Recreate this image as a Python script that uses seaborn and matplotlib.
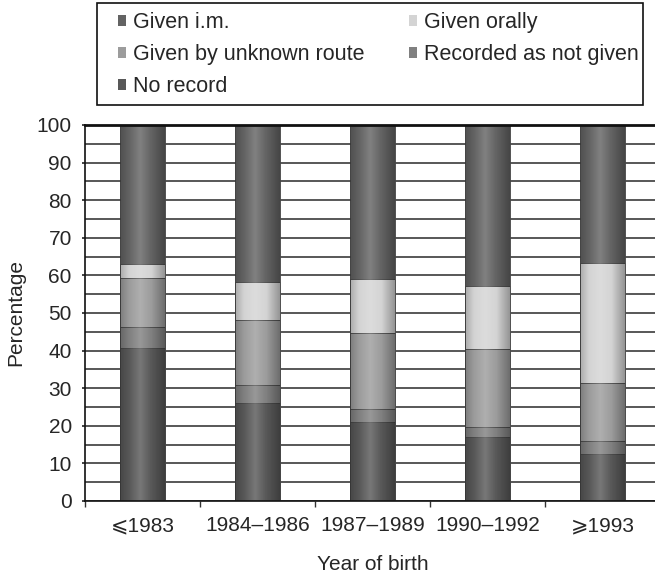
import matplotlib
matplotlib.use("Agg")
import matplotlib.pyplot as plt
import seaborn as sns
import pandas as pd
import numpy as np
from matplotlib.patches import Patch, Rectangle

categories = ["⩽1983", "1984–1986", "1987–1989", "1990–1992", "⩾1993"]
given_im = [37.1, 41.7, 41.0, 42.8, 36.6]
given_orally = [3.5, 10.2, 14.2, 16.9, 32.1]
given_unknown = [13.0, 17.2, 20.4, 20.5, 15.3]
recorded_not_given = [5.6, 4.8, 3.3, 2.9, 3.5]
no_record = [40.8, 26.1, 21.1, 16.9, 12.5]

# stacking order bottom -> top
series = [
    ("No record", no_record, "#585858"),
    ("Recorded as not given", recorded_not_given, "#808080"),
    ("Given by unknown route", given_unknown, "#9c9c9c"),
    ("Given orally", given_orally, "#d4d4d4"),
    ("Given i.m.", given_im, "#636363"),
]

sns.set_theme(style="white")
plt.rcParams["font.family"] = ["Liberation Sans", "DejaVu Sans"]
FS = 15

fig = plt.figure(figsize=(6.55, 5.73), dpi=100)
ax = fig.add_axes([85 / 655, 1 - 501 / 573, 575 / 655, 376 / 573])

cum = np.zeros(len(categories))
tops = []
for name, vals, col in series:
    cum = cum + np.array(vals)
    tops.append((name, cum.copy(), col))

# cylindrical shading overlay (horizontal gradient)
t = np.linspace(0, 1, 64)
v = 1 - np.abs(t - 0.45) * 2.2
shade = np.zeros((1, len(t), 4))
light = v > 0.45
shade[0, light, :3] = 1.0
shade[0, light, 3] = (v[light] - 0.45) * 0.35
shade[0, ~light, :3] = 0.0
shade[0, ~light, 3] = np.clip((0.45 - v[~light]) * 0.45, 0, 0.35)

# draw from tallest cumulative to shortest so lower segments sit on top
for i, (name, top, col) in enumerate(reversed(tops)):
    z = 2 + i * 0.1
    n_before = len(ax.patches)
    df = pd.DataFrame({"cat": categories, "val": top})
    sns.barplot(data=df, x="cat", y="val", color=col, width=0.39,
                edgecolor="#454545", linewidth=0.6, saturation=1, ax=ax,
                order=categories, zorder=z)
    for p in ax.patches[n_before:]:
        x0, y0 = p.get_x(), p.get_y()
        w, h = p.get_width(), p.get_height()
        im = ax.imshow(shade, extent=[x0, x0 + w, y0, y0 + h], aspect="auto",
                       interpolation="bilinear", zorder=z + 0.05)
        im.set_clip_path(p)

ax.set_xlim(-0.5, 4.5)
ax.set_ylim(0, 100)
ax.set_yticks(range(0, 101, 10))
ax.set_yticks(range(0, 101, 5), minor=True)
ax.grid(axis="y", which="both", color="#2a2a2a", linewidth=1.1, zorder=0)
ax.set_axisbelow(True)
ax.set_xticks(range(len(categories)))
ax.set_xticklabels(categories, fontsize=FS,
                   family=["Liberation Sans", "DejaVu Sans"])
ax.set_xticks(np.arange(-0.5, 5, 1), minor=True)
ax.tick_params(axis="x", which="major", length=0, pad=11)
ax.tick_params(axis="x", which="minor", length=4, width=1, color="#333", bottom=True)
ax.tick_params(axis="y", which="major", length=2.5, width=1.2, color="#222", left=True,
               labelsize=FS, pad=7)
ax.tick_params(axis="y", which="minor", length=0)
for s in ["left", "bottom", "top"]:
    ax.spines[s].set_visible(True)
    ax.spines[s].set_color("#111")
ax.spines["left"].set_linewidth(1.2)
ax.spines["bottom"].set_linewidth(1.2)
ax.spines["top"].set_linewidth(2)
ax.spines["right"].set_visible(False)

ax.set_xlabel("Year of birth", fontsize=FS, labelpad=14)
ax.set_ylabel("Percentage", fontsize=FS, labelpad=8)

# legend
LFS = 15.5
col_of = {name: col for name, _, col in series}
order = ["Given i.m.", "Given by unknown route", "No record",
         "Given orally", "Recorded as not given"]
handles = [Patch(facecolor=col_of[n], edgecolor="none") for n in order]
leg = fig.legend(handles, order, ncol=2, loc="upper left",
                 bbox_to_anchor=(118 / 655, 1 - 12 / 573),
                 fontsize=LFS, frameon=False,
                 handlelength=0.37, handleheight=0.37,
                 handletextpad=0.33, labelspacing=0.52, borderpad=0,
                 columnspacing=2.05, borderaxespad=0)
fig.patches.append(Rectangle((97 / 655, 1 - 105 / 573), 546 / 655, 102 / 573,
                             transform=fig.transFigure, fill=False,
                             edgecolor="#111", linewidth=1.2))

fig.savefig("out.png", dpi=100)
